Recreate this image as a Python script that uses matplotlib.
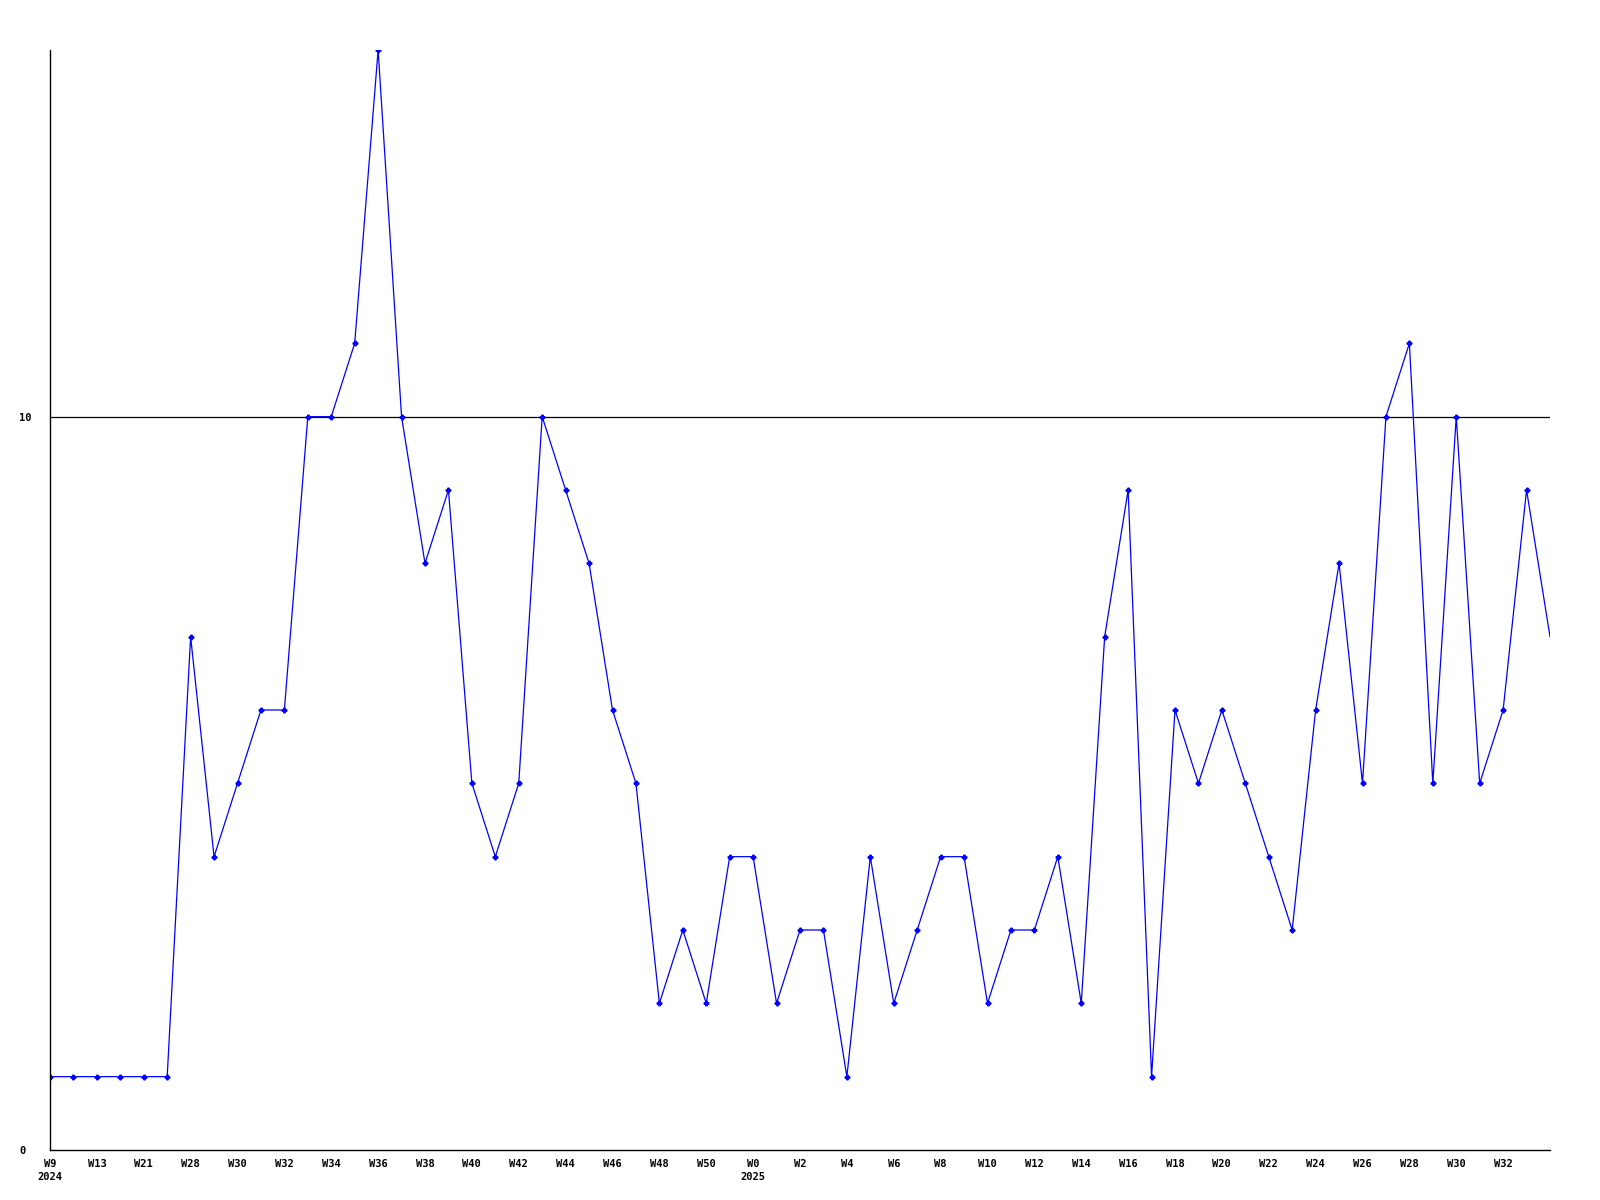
import matplotlib.pyplot as plt
import numpy as np

# weeks (only every other one gets a label on the axis)
weeks = ['W9', 'W11', 'W13', 'W17', 'W21', 'W25', 'W28', 'W29', 'W30', 'W31',
         'W32', 'W33', 'W34', 'W35', 'W36', 'W37', 'W38', 'W39', 'W40', 'W41',
         'W42', 'W43', 'W44', 'W45', 'W46', 'W47', 'W48', 'W49', 'W50', 'W51',
         'W0', 'W1', 'W2', 'W3', 'W4', 'W5', 'W6', 'W7', 'W8', 'W9',
         'W10', 'W11', 'W12', 'W13', 'W14', 'W15', 'W16', 'W17', 'W18', 'W19',
         'W20', 'W21', 'W22', 'W23', 'W24', 'W25', 'W26', 'W27', 'W28', 'W29',
         'W30', 'W31', 'W32', 'W33', 'W34']
years = {0: '2024', 30: '2025'}
values = [1, 1, 1, 1, 1, 1, 7, 4, 5, 6,
          6, 10, 10, 11, 15, 10, 8, 9, 5, 4,
          5, 10, 9, 8, 6, 5, 2, 3, 2, 4,
          4, 2, 3, 3, 1, 4, 2, 3, 4, 4,
          2, 3, 3, 4, 2, 7, 9, 1, 6, 5,
          6, 5, 4, 3, 6, 8, 5, 10, 11, 5,
          10, 5, 6, 9, 7]
ref_line = 10

font = 'DejaVu Sans Mono'
fig = plt.figure(figsize=(16, 12), dpi=100)
ax = fig.add_axes([50/1600, 50/1200, 1500/1600, 1100/1200])

x = np.arange(len(values))
ax.plot(x, values, color='#0000ff', linewidth=0.9,
        marker='P', markersize=3.3, markevery=list(range(len(values) - 1)))
ax.axhline(ref_line, color='black', linewidth=0.9, zorder=1)

ax.set_xlim(0, len(values) - 1)
ax.set_ylim(0, 15)

for s in ['top', 'right']:
    ax.spines[s].set_visible(False)
for s in ['left', 'bottom']:
    ax.spines[s].set_linewidth(1.0)

ax.set_yticks([0, 10])
ax.set_yticklabels(['0', '10'], fontfamily=font, fontweight='bold', fontsize=7.5)
for lab in ax.get_yticklabels():
    lab.set_horizontalalignment('left')
ax.tick_params(axis='y', length=0, pad=22.3)

# last week has no label
ax.set_xticks(x[:-1:2])
ax.set_xticklabels(weeks[:-1:2], fontfamily=font, fontweight='bold', fontsize=7.5)
ax.tick_params(axis='x', length=0, pad=6.5)

for i, yr in years.items():
    ax.annotate(yr, xy=(i, 0), xycoords=('data', 'axes fraction'),
                xytext=(-9, -16), textcoords='offset points',
                ha='left', va='top', fontfamily=font, fontweight='bold', fontsize=7.5)

fig.savefig('out.png', dpi=100)
